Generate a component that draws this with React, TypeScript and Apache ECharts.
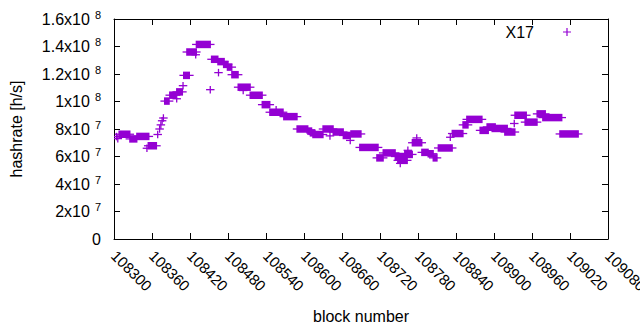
import React, { useEffect, useRef } from "react";
import * as echarts from "echarts";

// Runs of consecutive blocks sharing the same hashrate estimate (single points have start === end)
const runStart = [
  108304, 108306, 108308, 108325, 108336, 108352, 108354, 108369, 108372, 108374,
  108376, 108378, 108380, 108388, 108399, 108399, 108409, 108410, 108415, 108429,
  108430, 108452, 108454, 108465, 108464, 108473, 108479, 108486, 108496, 108504,
  108515, 108534, 108546, 108556, 108568, 108589, 108606, 108610, 108614, 108630,
  108641, 108646, 108662, 108673, 108674, 108688, 108715, 108725, 108744, 108748,
  108752, 108759, 108764, 108771, 108778, 108786, 108796, 108804, 108812, 108831,
  108834, 108851, 108857, 108878, 108889, 108897, 108917, 108932, 108933, 108949,
  108968, 108977, 109004,
];
const runEnd = [
  108304, 108306, 108325, 108336, 108355, 108352, 108367, 108369, 108372, 108374,
  108376, 108378, 108387, 108398, 108399, 108408, 108409, 108419, 108430, 108429,
  108452, 108452, 108464, 108465, 108474, 108480, 108486, 108496, 108515, 108504,
  108534, 108546, 108567, 108556, 108589, 108606, 108612, 108617, 108630, 108646,
  108641, 108662, 108673, 108673, 108690, 108717, 108725, 108744, 108759, 108763,
  108752, 108771, 108764, 108786, 108778, 108796, 108804, 108810, 108834, 108831,
  108851, 108859, 108881, 108891, 108902, 108921, 108933, 108932, 108951, 108968,
  108981, 109007, 109033,
];
const runValue = [
  7.45e7, 7.3e7, 7.62e7, 7.28e7, 7.46e7, 6.6e7, 6.78e7, 7.6e7, 8.0e7, 8.3e7,
  8.6e7, 8.8e7, 1.003e8, 1.046e8, 1.02e8, 1.07e8, 1.115e8, 1.19e8, 1.36e8, 1.34e8,
  1.415e8, 1.086e8, 1.307e8, 1.21e8, 1.29e8, 1.27e8, 1.25e8, 1.195e8, 1.104e8, 1.08e8,
  1.046e8, 9.77e7, 9.22e7, 9.4e7, 8.9e7, 8.0e7, 7.85e7, 7.72e7, 7.6e7, 8.0e7,
  7.5e7, 7.78e7, 7.53e7, 7.17e7, 7.64e7, 6.66e7, 5.9e7, 6.26e7, 6.0e7, 5.72e7,
  5.5e7, 6.15e7, 6.45e7, 7.0e7, 7.35e7, 6.3e7, 6.2e7, 5.9e7, 6.62e7, 7.4e7,
  7.67e7, 8.3e7, 8.7e7, 7.9e7, 8.15e7, 8.04e7, 7.78e7, 8.4e7, 9.0e7, 8.5e7,
  9.1e7, 8.83e7, 7.64e7,
];

const seriesName = "X17";
const xMin = 108300;
const xMax = 109080;
const xStep = 60;
const yMin = 0;
const yMax = 1.6e8;
const yStep = 2e7;

const COLOR = "#9400d3";
const FONT = "Liberation Sans";

function yLabel(v: number): string {
  if (v === 0) return "{m|0}";
  const e = Math.floor(Math.log10(v) + 1e-9);
  const m = Math.round((v / Math.pow(10, e)) * 10) / 10;
  return `{m|${m}x10}{e|${e}}`;
}

export default function App() {
  const ref = useRef<HTMLDivElement>(null);
  useEffect(() => {
    if (!ref.current) return;
    const chart = echarts.init(ref.current, undefined, { renderer: "svg" });
    const data = runStart.map((s, i) => [s, runEnd[i], runValue[i]]);
    const tickCommon = { show: true, inside: true, length: 6, lineStyle: { color: "#000", width: 1 } };
    const lineCommon = { show: true, onZero: false, lineStyle: { color: "#000", width: 1 } };
    chart.setOption({
      animation: false,
      backgroundColor: "#fff",
      color: [COLOR],
      textStyle: { fontFamily: FONT },
      grid: { left: 114, right: 32, top: 19, bottom: 91, containLabel: false, outerBoundsMode: "none" },
      legend: {
        show: true,
        top: 19,
        right: 64,
        align: "right",
        itemWidth: 8,
        itemHeight: 8,
        data: [{ name: seriesName, icon: "path://M0,3.4h8v1.2h-8z M3.4,0h1.2v8h-1.2z", itemStyle: { color: COLOR } }],
        textStyle: { fontFamily: FONT, fontSize: 16, color: "#000", padding: [0, 24, 0, 0] },
      },
      xAxis: [
        {
          type: "value",
          min: xMin,
          max: xMax,
          interval: xStep,
          position: "bottom",
          name: "block number",
          nameLocation: "middle",
          nameGap: 69,
          nameTextStyle: { fontFamily: FONT, fontSize: 16, color: "#000" },
          axisLine: lineCommon,
          axisTick: tickCommon,
          splitLine: { show: false },
          axisLabel: {
            rotate: -45,
            margin: 14,
            fontFamily: FONT,
            fontSize: 15,
            color: "#000",
            showMaxLabel: true,
            showMinLabel: true,
            hideOverlap: false,
            formatter: (v: number) => String(v),
          },
        },
        {
          type: "value",
          min: xMin,
          max: xMax,
          interval: xStep,
          position: "top",
          axisLine: lineCommon,
          axisTick: tickCommon,
          splitLine: { show: false },
          axisLabel: { show: false },
        },
      ],
      yAxis: [
        {
          type: "value",
          min: yMin,
          max: yMax,
          interval: yStep,
          position: "left",
          name: "hashrate [h/s]",
          nameLocation: "middle",
          nameGap: 90,
          nameRotate: 90,
          nameTextStyle: { fontFamily: FONT, fontSize: 16, color: "#000" },
          axisLine: lineCommon,
          axisTick: tickCommon,
          splitLine: { show: false },
          axisLabel: {
            margin: 13,
            fontFamily: FONT,
            fontSize: 16,
            color: "#000",
            formatter: yLabel,
            rich: {
              m: { fontFamily: FONT, fontSize: 16, color: "#000" },
              e: { fontFamily: FONT, fontSize: 11, color: "#000", padding: [0, 0, 9, 5] },
            },
          },
        },
        {
          type: "value",
          min: yMin,
          max: yMax,
          interval: yStep,
          position: "right",
          axisLine: lineCommon,
          axisTick: tickCommon,
          splitLine: { show: false },
          axisLabel: { show: false },
        },
      ],
      series: [
        {
          name: seriesName,
          type: "custom",
          xAxisIndex: 0,
          yAxisIndex: 0,
          encode: { x: [0, 1], y: 2 },
          itemStyle: { color: COLOR },
          data,
          clip: true,
          renderItem: (params: any, api: any) => {
            const s = api.coord([api.value(0), api.value(2)]);
            const e = api.coord([api.value(1), api.value(2)]);
            const h = 3.75;
            return {
              type: "group",
              children: [
                {
                  type: "rect",
                  shape: { x: s[0] - 0.65, y: s[1] - h, width: e[0] - s[0] + 1.3, height: 2 * h },
                  style: { fill: COLOR },
                },
                {
                  type: "line",
                  shape: { x1: s[0] - h - 0.5, y1: s[1], x2: e[0] + h + 0.5, y2: s[1] },
                  style: { stroke: COLOR, lineWidth: 1.3 },
                },
              ],
            };
          },
        },
      ],
    });
    return () => chart.dispose();
  }, []);
  return (
    <div style={{ position: "fixed", left: 0, top: 0, width: 640, height: 330, background: "#fff" }}>
      <div ref={ref} style={{ width: 640, height: 330 }} />
    </div>
  );
}
